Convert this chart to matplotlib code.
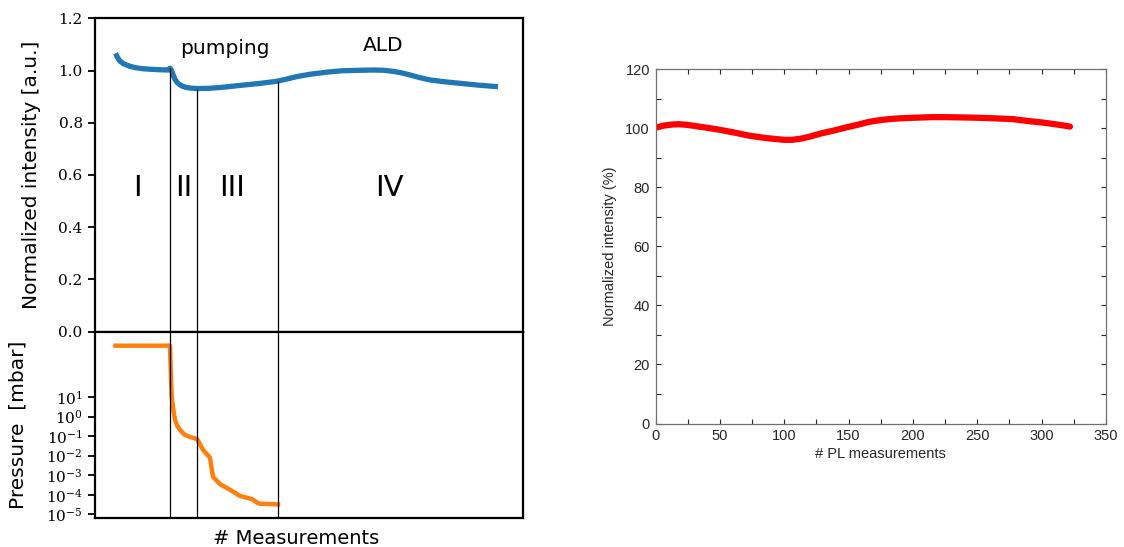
import numpy as np
import matplotlib
matplotlib.use("Agg")
import matplotlib.pyplot as plt
import matplotlib.ticker as ticker

# left panel: normalized PL intensity during pumping / ALD
meas_x = [0, 2, 4.5, 8, 14.5, 20, 27, 34.5, 44, 52.5, 54.5, 56, 57.5, 59.5, 62, 64.5, 67, 70,
          74.5, 81, 94.5, 110, 124.5, 145, 161.5, 172, 181.5, 195, 212, 226, 245, 258, 268,
          277.5, 286, 294.5, 304, 314.5, 329, 344.5, 363, 382.5]
intensity = [1.066, 1.05, 1.036, 1.026, 1.016, 1.011, 1.007, 1.005, 1.003, 1.002, 1.009, 1.0,
             0.985, 0.966, 0.953, 0.945, 0.940, 0.936, 0.933, 0.931, 0.932, 0.937, 0.943,
             0.951, 0.959, 0.968, 0.977, 0.986, 0.994, 0.999, 1.001, 1.002, 1.001, 0.997,
             0.991, 0.983, 0.973, 0.964, 0.957, 0.951, 0.944, 0.938]

# pressure during pumping (mbar)
pres_x = [0, 54.5, 55.2, 56.2, 58, 59.5, 62, 64.5, 69, 74.5, 81.5, 87.5, 94.5, 96, 97.5,
          104.5, 114.5, 124.5, 136.5, 141.5, 144, 162.5]
pressure = [4.3e3, 4.3e3, 2.5e2, 1.1e1, 2.0, 0.69, 0.32, 0.21, 0.12, 0.091, 0.072, 0.02,
            7.9e-3, 2.5e-3, 8.3e-4, 3.5e-4, 1.8e-4, 8.7e-5, 6.0e-5, 4.0e-5, 3.5e-5, 3.2e-5]

phase_bounds = [54.5, 81.5, 162]
phase_names = ["I", "II", "III", "IV"]
phase_pos = [21.5, 68, 116.5, 274]

# right panel: PL during ALD
pl_x = [0.8, 6, 13, 18, 24, 29, 40, 50, 62, 73, 86, 100, 106, 113, 120, 128, 138, 149, 157,
        165, 173, 181, 190, 202, 215, 225, 237, 249, 263, 278, 291, 300, 307, 315, 322]
pl_y = [100.3, 100.9, 101.3, 101.4, 101.2, 100.9, 100.2, 99.5, 98.5, 97.5, 96.7, 96.1, 96.1,
        96.5, 97.2, 98.2, 99.2, 100.4, 101.2, 102.1, 102.7, 103.1, 103.4, 103.6, 103.8, 103.8,
        103.7, 103.6, 103.4, 103.1, 102.4, 102.0, 101.6, 101.1, 100.6]

plt.rcParams['mathtext.fontset'] = 'dejavuserif'

W, H = 1124, 547
fig = plt.figure(figsize=(W / 100, H / 100), dpi=100)

ax_top = fig.add_axes([94.5 / W, 1 - 331.7 / H, 428.5 / W, 313.4 / H])
ax_bot = fig.add_axes([94.5 / W, 1 - 518 / H, 428.5 / W, 186.3 / H])

xlim = (-21, 407.5)
for ax in (ax_top, ax_bot):
    ax.set_xlim(*xlim)
    ax.set_xticks([])
    for sp in ax.spines.values():
        sp.set_linewidth(1.6)
        sp.set_color('black')
    ax.tick_params(axis='y', length=5, width=1.3, labelsize=11, direction='out')

ax_top.plot(meas_x, intensity, color='#1f77b4', lw=3.8, solid_capstyle='butt',
            solid_joinstyle='round')
ax_top.set_ylim(0, 1.2)
ax_top.yaxis.set_major_locator(ticker.MultipleLocator(0.2))
ax_top.yaxis.set_major_formatter(ticker.FormatStrFormatter('%.1f'))
for lab in ax_top.get_yticklabels():
    lab.set_family('DejaVu Serif')
bound_top = np.interp(phase_bounds, meas_x, intensity)
ax_top.vlines(phase_bounds, 0, bound_top, color='black', lw=0.9)
ax_top.set_ylabel('Normalized intensity [a.u.]', fontsize=14.5)
ax_top.yaxis.set_label_coords(-0.125, 0.5)

for name, xp in zip(phase_names, phase_pos):
    ax_top.text(xp, 0.55, name, fontsize=21, ha='center', va='center')
ax_top.text(109.5, 1.086, 'pumping', fontsize=14.5, ha='center', va='center')
ax_top.text(267.5, 1.094, 'ALD', fontsize=14.5, ha='center', va='center')

ax_bot.semilogy(pres_x, pressure, color='#ff7f0e', lw=3.2, solid_joinstyle='round')
ax_bot.set_ylim(10 ** -5.19, 10 ** 4.35)
ax_bot.set_yticks([10.0 ** k for k in range(-5, 2)])
ax_bot.yaxis.set_minor_locator(ticker.NullLocator())
for lab in ax_bot.get_yticklabels():
    lab.set_family('DejaVu Serif')
for xb in phase_bounds:
    ax_bot.axvline(xb, color='black', lw=0.9)
ax_bot.set_ylabel('Pressure  [mbar]', fontsize=14.5)
ax_bot.yaxis.set_label_coords(-0.156, 0.5)
ax_bot.set_xlabel('# Measurements', fontsize=14)
ax_bot.xaxis.set_label_coords(0.47, -0.06)

# right panel, matlab look
ax_r = fig.add_axes([655.5 / W, 1 - 423.5 / H, 450.5 / W, 354.2 / H])
ax_r.plot(pl_x, pl_y, color='#ff0000', lw=4.5, solid_capstyle='round', solid_joinstyle='round')
ax_r.set_xlim(0, 350)
ax_r.set_ylim(0, 120)
ax_r.xaxis.set_major_locator(ticker.MultipleLocator(50))
ax_r.xaxis.set_minor_locator(ticker.MultipleLocator(25))
ax_r.yaxis.set_major_locator(ticker.MultipleLocator(20))
ax_r.yaxis.set_minor_locator(ticker.MultipleLocator(10))
for sp in ax_r.spines.values():
    sp.set_color('#707070')
    sp.set_linewidth(0.9)
ax_r.tick_params(which='both', direction='in', top=True, right=True, length=3.5,
                 width=0.8, color='#262626', labelcolor='#262626', labelsize=10.5, pad=4)
for lab in ax_r.get_xticklabels() + ax_r.get_yticklabels():
    lab.set_family('Liberation Sans')
ax_r.set_xlabel('# PL measurements', fontsize=10.5, color='#262626', family='Liberation Sans', labelpad=3)
ax_r.set_ylabel('Normalized intensity (%)', fontsize=10.5, color='#262626', family='Liberation Sans', labelpad=6)

fig.savefig('out.png', dpi=100)
